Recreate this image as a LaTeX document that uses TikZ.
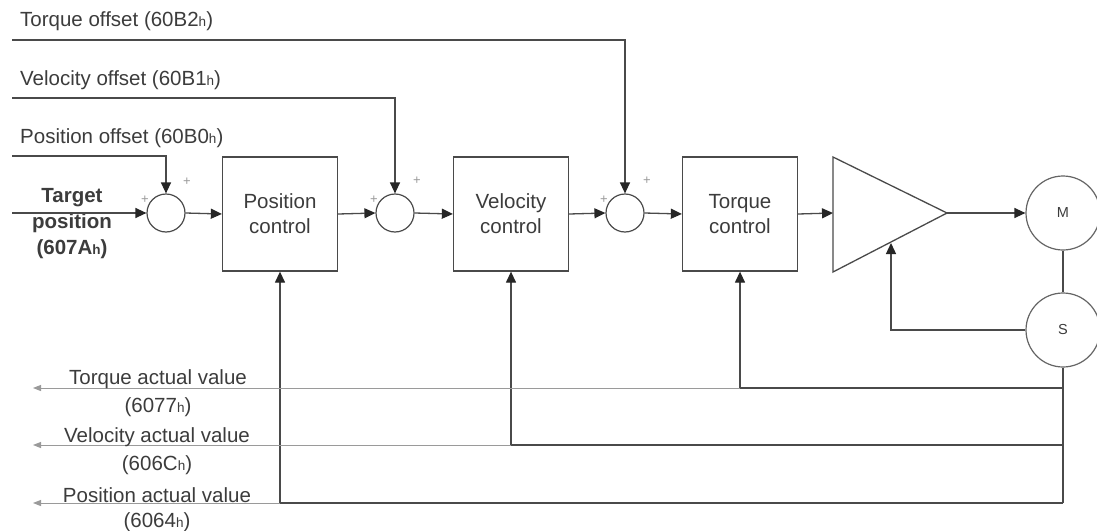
\documentclass[tikz,border=0pt]{standalone}
\usepackage{fontspec}
\setmainfont{Liberation Sans}
\usetikzlibrary{arrows.meta}
\newcommand{\hsub}{{\fontsize{13.5}{13.5}\selectfont h}}
\definecolor{ln}{HTML}{4A4A4A}
\definecolor{tx}{HTML}{3C3C3C}
\definecolor{lt}{HTML}{9A9A9A}
\begin{document}
\begin{tikzpicture}[x=1pt,y=-1pt,
  every node/.style={font=\fontsize{20.5}{25}\selectfont, text=tx},
  wire/.style={draw=ln, line width=1.3pt},
  arr/.style={wire, -{Triangle[length=11pt,width=10pt,color=black!85]}},
  blk/.style={draw=ln, line width=1.3pt, minimum width=115pt, minimum height=114pt, align=center, inner sep=0pt},
  sumj/.style={circle, draw=ln, line width=1.2pt, minimum size=38pt, inner sep=0pt},
  mach/.style={circle, draw=ln!85, line width=1.2pt, minimum size=74pt, inner sep=0pt, font=\fontsize{14.5}{14.5}\selectfont},
  lbl/.style={anchor=west, inner sep=0pt},
  pl/.style={font=\fontsize{13}{13}\selectfont, text=lt, inner sep=0pt},
  fb/.style={draw=lt, line width=1pt, -{Triangle[length=8pt,width=6pt]}},
]
\useasboundingbox (0,0) rectangle (1097,530);
\fill[white] (0,0) rectangle (1097,530);

% offset labels
\node[lbl] (tol) at (20,21) {Torque offset (60B2\hsub)};
\node[lbl] (vol) at (20,80) {Velocity offset (60B1\hsub)};
\node[lbl] (pol) at (20,138) {Position offset (60B0\hsub)};
\coordinate (to0) at (12,40);
\coordinate (vo0) at (12,98);
\coordinate (po0) at (12,156);
\coordinate (tp0) at (12,213);

% summing junctions
\node[sumj] (s1) at (166,213) {};
\node[sumj] (s2) at (395,213) {};
\node[sumj] (s3) at (625,213) {};
\node[pl] (p1a) at (145,200) {+};
\node[pl] (p1b) at (187,182) {+};
\node[pl] (p2a) at (374,200) {+};
\node[pl] (p2b) at (417,181) {+};
\node[pl] (p3a) at (604,200) {+};
\node[pl] (p3b) at (647,181) {+};

% control blocks
\node[blk] (pc) at (280,214) {Position\\control};
\node[blk] (vc) at (511,214) {Velocity\\control};
\node[blk] (tc) at (740,214) {Torque\\control};

% amplifier
\draw[wire] (833,157) -- (833,272) -- (947,213) -- cycle;
\coordinate (ampin) at (833,213);
\coordinate (ampout) at (947,213);
\coordinate (ampfb) at (891,243);

% motor and sensor
\node[mach] (M) at (1063,213) {M};
\node[mach] (S) at (1063,330) {S};

% target
\node[align=center, font=\bfseries\fontsize{20.5}{26}\selectfont] (tp) at (72,224) {Target\\position\\(607A\hsub)};

% forward path
\draw[arr] (po0) -| (s1.north);
\draw[arr] (vo0) -| (s2.north);
\draw[arr] (to0) -| (s3.north);
\draw[arr] (tp0) -- (s1.west);
\draw[arr] (s1.east) -- (pc.west);
\draw[arr] (pc.east) -- (s2.west);
\draw[arr] (s2.east) -- (vc.west);
\draw[arr] (vc.east) -- (s3.west);
\draw[arr] (s3.east) -- (tc.west);
\draw[arr] (tc.east) -- (ampin);
\draw[arr] (ampout) -- (M.west);
\draw[wire] (M.south) -- (S.north);
\draw[arr] (S.west) -| (ampfb);

% feedback
\coordinate (cT) at (1063,388);
\coordinate (cV) at (1063,445);
\coordinate (cP) at (1063,503);
\coordinate (eT) at (33,388);
\coordinate (eV) at (33,445);
\coordinate (eP) at (33,503);
\draw[wire] (S.south) -- (cP);
\draw[arr] (cT) -| (tc.south);
\draw[arr] (cV) -| (vc.south);
\draw[arr] (cP) -| (pc.south);
\draw[fb] (tc.south |- cT) -- (eT);
\draw[fb] (vc.south |- cV) -- (eV);
\draw[fb] (pc.south |- cP) -- (eP);

\node (tav) at (158,379) {Torque actual value};
\node (tan) at (158,407) {(6077\hsub)};
\node (vav) at (157,437) {Velocity actual value};
\node (van) at (157,465) {(606C\hsub)};
\node (pav) at (157,495) {Position actual value};
\node (pan) at (157,522) {(6064\hsub)};
\end{tikzpicture}
\end{document}
